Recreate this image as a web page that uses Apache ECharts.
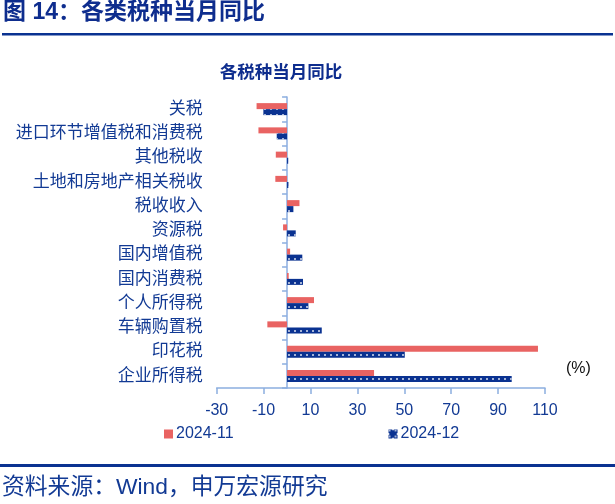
<!DOCTYPE html>
<html>
<head>
<meta charset="utf-8">
<script src="https://cdn.jsdelivr.net/npm/echarts@6/dist/echarts.min.js"></script>
<style>
html,body{margin:0;padding:0;background:#fff;}
#c{width:615px;height:504px;}
</style>
</head>
<body>
<div id="c"></div>
<script>
const categories = ['关税','进口环节增值税和消费税','其他税收','土地和房地产相关税收','税收收入','资源税','国内增值税','国内消费税','个人所得税','车辆购置税','印花税','企业所得税'];
const nov2024 = [-13.0, -12.2, -4.8, -5.0, 5.3, -1.7, 1.3, 0.7, 11.5, -8.4, 107.0, 37.1];
const dec2024 = [-10.1, -4.4, 0.5, 0.6, 2.7, 3.7, 6.5, 6.8, 9.1, 14.8, 50.2, 95.8];
const xTicks = [-30, -10, 10, 30, 50, 70, 90, 110];

const navy = '#0A3291';
const red = '#E96362';
const textBlue = '#123A94';
const axisBlue = '#8CAEE0';
const font = '"Liberation Sans","Noto Sans CJK SC",sans-serif';

const chart = echarts.init(document.getElementById('c'));
chart.setOption({
  animation: false,
  backgroundColor: '#fff',
  textStyle: {fontFamily: font},
  title: {
    text: '各税种当月同比',
    left: 276, top: 59, textAlign: 'center',
    textStyle: {fontSize: 17.5, fontWeight: 'bold', color: '#0E2D8E', fontFamily: font}
  },
  graphic: [
    {type: 'text', left: 3, top: 1, style: {text: '图 14：各类税种当月同比', fontSize: 23, fontWeight: 'bold', fill: '#0E2D8E', fontFamily: font}},
    {type: 'rect', shape: {x: 2, y: 33, width: 611, height: 2.5}, style: {fill: '#0A3291'}},
    {type: 'rect', shape: {x: 0, y: 464, width: 615, height: 3}, style: {fill: '#0A3291'}},
    {type: 'text', left: 2, top: 476, style: {text: '资料来源：Wind，申万宏源研究', fontSize: 22.8, fill: textBlue, fontFamily: font}},
    {type: 'text', left: 566, top: 361, style: {text: '(%)', fontSize: 16, fill: '#111', fontFamily: font}}
  ],
  legend: {
    left: 159, top: 421, itemGap: 155, itemWidth: 9, itemHeight: 9,
    textStyle: {fontSize: 16, color: textBlue, fontFamily: font, padding: [0,0,0,-2]},
    data: [
      {name: '2024-11', icon: 'rect'},
      {name: '2024-12', icon: 'path://M0,0 L4,0 L5,1.5 L6,0 L10,0 L10,4 L8.5,5 L10,6 L10,10 L6,10 L5,8.5 L4,10 L0,10 L0,6 L1.5,5 L0,4 Z'}
    ]
  },
  grid: {left: 216.7, right: 70, top: 97, bottom: 116, containLabel: false, outerBoundsMode: 'none'},
  xAxis: {
    type: 'value', min: -30, max: 110, interval: 20,
    axisLine: {show: true, lineStyle: {color: axisBlue, width: 1.5}},
    axisTick: {show: true, length: 6, lineStyle: {color: axisBlue, width: 1.5}},
    splitLine: {show: false},
    axisLabel: {margin: 15, fontSize: 16, color: textBlue, fontFamily: font,
      formatter: v => xTicks.includes(v) ? String(v) : ''}
  },
  yAxis: {
    type: 'category', data: categories, inverse: true,
    axisLine: {show: true, onZero: true, lineStyle: {color: axisBlue, width: 1.5}},
    axisTick: {show: true, length: 5, lineStyle: {color: axisBlue, width: 1.5}},
    axisLabel: {margin: 14, fontSize: 17, color: textBlue, fontFamily: font, padding: [7, 0, 0, 0]}
  },
  series: [
    {name: '2024-11', type: 'bar', data: nov2024, barWidth: 6, barGap: '0%',
     itemStyle: {color: red}},
    {name: '2024-12', type: 'bar', data: dec2024, barWidth: 6, barGap: '0%',
     itemStyle: {color: navy, decal: {symbol: 'circle', symbolSize: 1, color: 'rgba(255,255,255,0.85)', dashArrayX: [2, 3.5], dashArrayY: [2, 4], rotation: 0}}}
  ]
});
</script>
</body>
</html>
